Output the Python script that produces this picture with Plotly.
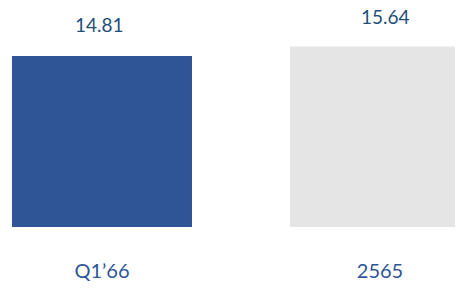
import plotly.graph_objects as go

categories = ["Q1\u201966", "2565"]
values = [14.81, 15.64]
value_labels = ["14.81", "15.64"]
bar_colors = ["#2F5597", "#E5E5E5"]

# page body adds an 8px margin, so the figure is sized to the visible area
W, H = 455, 281
plot_bottom = 219
px_per_unit = 171 / 14.81
y_max = plot_bottom / px_per_unit
c0 = 94
step = 278

fig = go.Figure()
fig.add_trace(go.Bar(
    x=[0, 1], y=values, width=180 / step,
    marker=dict(color=bar_colors, line=dict(width=0)),
    hoverinfo="skip",
))

for i, (v, t) in enumerate(zip(values, value_labels)):
    fig.add_annotation(
        x=i, y=v, text=t, showarrow=False,
        yanchor="middle", yshift=(32 if i == 0 else 30),
        xshift=(-3 if i == 0 else 5),
        font=dict(family="Lato", size=19, color="#1F4E79"),
    )

fig.update_layout(
    width=W, height=H,
    margin=dict(l=0, r=0, t=0, b=H - plot_bottom, pad=0),
    paper_bgcolor="white", plot_bgcolor="white",
    showlegend=False,
    xaxis=dict(
        range=[-c0 / step, (W - c0) / step],
        tickmode="array", tickvals=[0, 1], ticktext=categories,
        showgrid=False, zeroline=False, showline=False, ticks="",
        ticklabelstandoff=30,
        tickfont=dict(family="Lato", size=20, color="#2F5597"),
    ),
    yaxis=dict(
        range=[0, y_max], visible=False, showgrid=False, zeroline=False,
    ),
)

fig.write_html("out.html")
